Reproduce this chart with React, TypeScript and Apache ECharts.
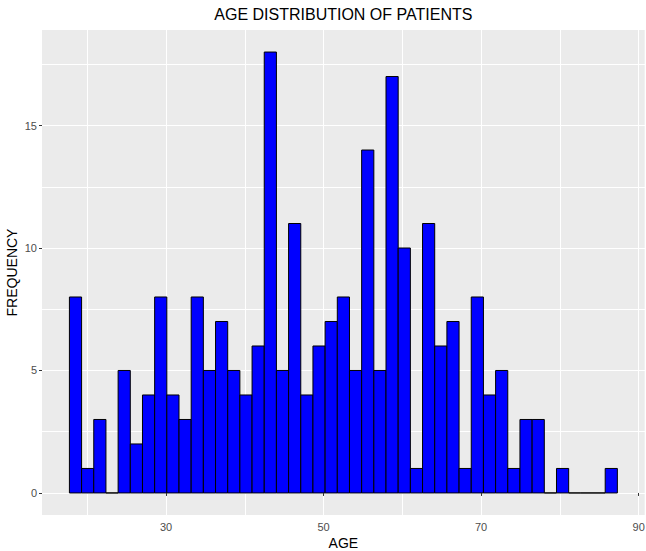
import React, { useEffect, useRef } from "react";
import * as echarts from "echarts";

const TITLE = "AGE DISTRIBUTION OF PATIENTS";
const X_TITLE = "AGE";
const Y_TITLE = "FREQUENCY";

// histogram bins (start of first bin and bin width, in years)
const BIN_START = 17.73;
const BIN_WIDTH = 1.546;
const COUNTS = [
  8, 1, 3, 0, 5, 2, 4, 8, 4, 3, 8, 5, 7, 5, 4, 6, 18, 5, 11, 4, 6, 7, 8,
  5, 14, 5, 17, 10, 1, 11, 6, 7, 1, 8, 4, 5, 1, 3, 3, 0, 1, 0, 0, 0, 1,
];

const X_TICKS = [30, 50, 70, 90];
const Y_TICKS = [0, 5, 10, 15];
const X_RANGE = [14.25, 90.77];
const Y_RANGE = [-0.9, 18.9];
// wider ranges used only to lay down the gridlines (major + minor)
const X_GRID_RANGE = [10, 100];
const Y_GRID_RANGE = [-5, 20];
const X_GRID_STEP = 10;
const Y_GRID_STEP = 2.5;

const FONT = "'Liberation Sans', Arial, Helvetica, sans-serif";

export default function App() {
  const ref = useRef<HTMLDivElement>(null);

  useEffect(() => {
    if (!ref.current) return;
    const chart = echarts.init(ref.current, undefined, { renderer: "svg" });

    // panel rectangle in pixels
    const P = { left: 42, top: 30, width: 602.7, height: 485 };
    const sx = P.width / (X_RANGE[1] - X_RANGE[0]);
    const sy = P.height / (Y_RANGE[1] - Y_RANGE[0]);
    const big = {
      left: P.left - (X_RANGE[0] - X_GRID_RANGE[0]) * sx,
      width: (X_GRID_RANGE[1] - X_GRID_RANGE[0]) * sx,
      top: P.top - (Y_GRID_RANGE[1] - Y_RANGE[1]) * sy,
      height: (Y_GRID_RANGE[1] - Y_GRID_RANGE[0]) * sy,
    };

    const data = COUNTS.map((c, i) => [
      BIN_START + i * BIN_WIDTH,
      BIN_START + (i + 1) * BIN_WIDTH,
      c,
    ]);

    chart.setOption({
      animation: false,
      backgroundColor: "#FFFFFF",
      title: {
        text: TITLE,
        left: P.left + P.width / 2,
        top: 6,
        textAlign: "center",
        padding: 0,
        textStyle: {
          fontSize: 16,
          fontWeight: "normal",
          color: "#000000",
          fontFamily: FONT,
        },
      },
      grid: [
        {
          left: P.left,
          top: P.top,
          width: P.width,
          height: P.height,
          containLabel: false,
          outerBoundsMode: "none",
          show: true,
          backgroundColor: "#EBEBEB",
          borderWidth: 0,
          z: 0,
        },
        {
          left: big.left,
          top: big.top,
          width: big.width,
          height: big.height,
          containLabel: false,
          outerBoundsMode: "none",
          show: false,
          z: 0,
        },
      ],
      xAxis: [
        {
          type: "value",
          gridIndex: 0,
          min: X_RANGE[0],
          max: X_RANGE[1],
          z: 3,
          name: X_TITLE,
          nameLocation: "middle",
          nameGap: 21,
          nameMoveOverlap: false,
          nameTextStyle: { fontSize: 14, color: "#000000", fontFamily: FONT },
          axisLine: { show: false },
          axisTick: {
            show: true,
            customValues: X_TICKS,
            length: 3,
            lineStyle: { color: "#333333", width: 1 },
          },
          axisLabel: {
            show: true,
            customValues: X_TICKS,
            margin: 6,
            fontSize: 11,
            color: "#4D4D4D",
            fontFamily: FONT,
          },
          splitLine: { show: false },
        },
        {
          type: "value",
          gridIndex: 1,
          min: X_GRID_RANGE[0],
          max: X_GRID_RANGE[1],
          interval: X_GRID_STEP,
          z: 1,
          axisLine: { show: false },
          axisTick: { show: false },
          axisLabel: { show: false },
          splitLine: { show: true, lineStyle: { color: "#FFFFFF", width: 1 } },
        },
      ],
      yAxis: [
        {
          type: "value",
          gridIndex: 0,
          min: Y_RANGE[0],
          max: Y_RANGE[1],
          z: 3,
          name: Y_TITLE,
          nameLocation: "middle",
          nameGap: 23,
          nameMoveOverlap: false,
          nameTextStyle: { fontSize: 14, color: "#000000", fontFamily: FONT },
          axisLine: { show: false },
          axisTick: {
            show: true,
            customValues: Y_TICKS,
            length: 3,
            lineStyle: { color: "#333333", width: 1 },
          },
          axisLabel: {
            show: true,
            customValues: Y_TICKS,
            margin: 5,
            fontSize: 11,
            color: "#4D4D4D",
            fontFamily: FONT,
          },
          splitLine: { show: false },
        },
        {
          type: "value",
          gridIndex: 1,
          min: Y_GRID_RANGE[0],
          max: Y_GRID_RANGE[1],
          interval: Y_GRID_STEP,
          z: 1,
          axisLine: { show: false },
          axisTick: { show: false },
          axisLabel: { show: false },
          splitLine: { show: true, lineStyle: { color: "#FFFFFF", width: 1 } },
        },
      ],
      series: [
        {
          type: "custom",
          xAxisIndex: 0,
          yAxisIndex: 0,
          z: 2,
          clip: false,
          encode: { x: [0, 1], y: 2 },
          data,
          renderItem: (params: any, api: any) => {
            const x0 = api.value(0);
            const x1 = api.value(1);
            const c = api.value(2);
            const p0 = api.coord([x0, c]);
            const p1 = api.coord([x1, 0]);
            return {
              type: "rect",
              shape: {
                x: p0[0],
                y: p0[1],
                width: p1[0] - p0[0],
                height: p1[1] - p0[1],
              },
              style: { fill: "#0000FF", stroke: "#000000", lineWidth: 1 },
            };
          },
        },
      ],
    });

    return () => chart.dispose();
  }, []);

  return (
    <div
      ref={ref}
      style={{ position: "fixed", left: 0, top: 0, width: 646, height: 551 }}
    />
  );
}
